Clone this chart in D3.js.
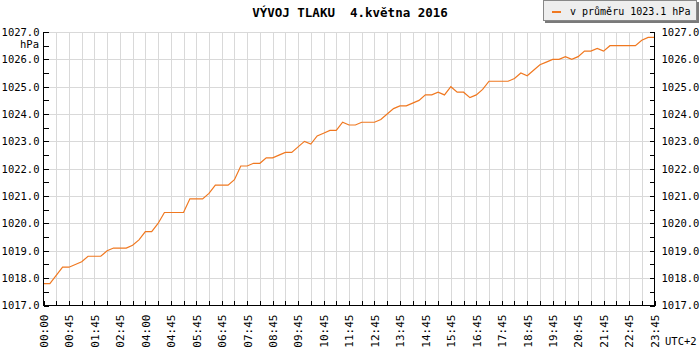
<!DOCTYPE html>
<html><head><meta charset="utf-8">
<script src="https://cdn.jsdelivr.net/npm/d3@7"></script>
<style>
html,body{margin:0;padding:0;background:#fff;}
svg{display:block;}
text{font-family:"DejaVu Sans Mono",monospace;}
</style>
</head><body>
<svg id="c" width="700" height="350"></svg>
<script>
const title = "VÝVOJ TLAKU  4.května 2016";
const legendLabel = "v průměru 1023.1 hPa";
const unitLabel = "hPa";
const tzLabel = "UTC+2";
const xTickLabels = ["00:00","00:45","01:45","02:45","04:00","04:45","05:45","06:45","07:45","08:45","09:45","10:45","11:45","12:45","13:45","14:45","15:45","16:45","17:45","18:45","19:45","20:45","21:45","22:45","23:45"];
const pressure = [
1017.8,1017.8,1018.1,1018.4,1018.4,1018.5,1018.6,1018.8,1018.8,1018.8,
1019.0,1019.1,1019.1,1019.1,1019.2,1019.4,1019.7,1019.7,1020.0,1020.4,
1020.4,1020.4,1020.4,1020.9,1020.9,1020.9,1021.1,1021.4,1021.4,1021.4,
1021.6,1022.1,1022.1,1022.2,1022.2,1022.4,1022.4,1022.5,1022.6,1022.6,
1022.8,1023.0,1022.9,1023.2,1023.3,1023.4,1023.4,1023.7,1023.6,1023.6,
1023.7,1023.7,1023.7,1023.8,1024.0,1024.2,1024.3,1024.3,1024.4,1024.5,
1024.7,1024.7,1024.8,1024.7,1025.0,1024.8,1024.8,1024.6,1024.7,1024.9,
1025.2,1025.2,1025.2,1025.2,1025.3,1025.5,1025.4,1025.6,1025.8,1025.9,
1026.0,1026.0,1026.1,1026.0,1026.1,1026.3,1026.3,1026.4,1026.3,1026.5,
1026.5,1026.5,1026.5,1026.5,1026.7,1026.8,1026.8];
const yMin = 1017, yMax = 1027;

const L = 43.5, R = 654.5, T = 32, B = 305.5;
const svg = d3.select("#c");
const n = pressure.length - 1;
const x = d3.scaleLinear().domain([0, n]).range([L, R]);
const y = d3.scaleLinear().domain([yMin, yMax]).range([B, T]);

// grid
const g = svg.append("g").attr("shape-rendering","crispEdges");
const vIdx = d3.range(2, n, 2);
g.selectAll(".vg").data(vIdx).enter().append("line")
  .attr("x1", d => Math.round(x(d)) + 0.5).attr("x2", d => Math.round(x(d)) + 0.5)
  .attr("y1", T).attr("y2", B).attr("stroke", "#d9d9d9");
const hVals = d3.range(yMin + 1, yMax + 1, 1);
g.selectAll(".hg").data(hVals).enter().append("line")
  .attr("x1", L).attr("x2", R)
  .attr("y1", d => Math.round(y(d)) + 0.5).attr("y2", d => Math.round(y(d)) + 0.5)
  .attr("stroke", "#d9d9d9");

// line
const line = d3.line().x((d, i) => x(i)).y(d => y(d));
svg.append("path").datum(pressure).attr("d", line)
  .attr("fill", "none").attr("stroke", "#f07820").attr("stroke-width", 1.2);

// axes
const yTicks = d3.range(yMin, yMax + 0.01, 0.5);
const fmt = d => (Number.isInteger(d) ? d.toFixed(1) : "");
const axL = d3.axisLeft(y).tickValues(yTicks).tickSize(-5).tickPadding(8).tickFormat(fmt);
const axR = d3.axisRight(y).tickValues(yTicks).tickSize(-5).tickPadding(8).tickFormat(fmt);
const xTickIdx = d3.range(0, n + 1, 2);
const axB = d3.axisBottom(x).tickValues(xTickIdx).tickSize(-5).tickFormat(d => d % 4 === 0 ? xTickLabels[d / 4] : "");

const gl = svg.append("g").attr("transform", `translate(${L},0)`).call(axL);
const gr = svg.append("g").attr("transform", `translate(${R},0)`).call(axR);
const gb = svg.append("g").attr("transform", `translate(0,${B})`).call(axB);
[gl, gr, gb].forEach(a => {
  a.select(".domain").attr("stroke", "#000").attr("shape-rendering","crispEdges");
  a.selectAll(".tick line").attr("stroke", "#000").attr("shape-rendering","crispEdges");
  a.selectAll("text").attr("font-family", "DejaVu Sans Mono, monospace").attr("font-size", 11).attr("fill", "#000");
});
gl.selectAll(".tick text").attr("font-size", 10.5);
gr.selectAll(".tick text").attr("font-size", 10.5);
gl.select(".domain").attr("d", `M0,${T}V${B}`);
gr.select(".domain").attr("d", `M0,${T}V${B}`);
gb.select(".domain").attr("d", `M${L},0H${R}`);
gr.selectAll(".tick text").attr("x", 7);
gl.selectAll(".tick text").attr("x", -4);
gb.selectAll(".tick text")
  .attr("transform", "rotate(-90)")
  .attr("text-anchor", "end")
  .attr("x", -9).attr("y", 0).attr("dy", "0.35em");

// unit
svg.append("text").attr("x", 39).attr("y", 48).attr("text-anchor", "end")
  .attr("font-size", 10.5).text(unitLabel);
svg.append("text").attr("x", 665).attr("y", 345)
  .attr("font-size", 10.5).text(tzLabel);

// title
svg.append("text").attr("x", 350).attr("y", 17).attr("text-anchor", "middle")
  .attr("font-family", "DejaVu Sans, sans-serif").attr("font-weight", "bold")
  .attr("font-size", 12.5).style("white-space", "pre").text(title);

// legend
const lg = svg.append("g").attr("shape-rendering","crispEdges");
lg.append("rect").attr("x", 545).attr("y", 2).attr("width", 154).attr("height", 21).attr("fill", "#7a7a7a");
lg.append("rect").attr("x", 543.5).attr("y", 0.5).attr("width", 153).attr("height", 20).attr("fill", "#eeeeee").attr("stroke", "#888");
lg.append("line").attr("x1", 552).attr("x2", 561).attr("y1", 11.5).attr("y2", 11.5).attr("stroke", "#f07820").attr("stroke-width", 2);
svg.append("text").attr("x", 570).attr("y", 15).attr("font-size", 10).text(legendLabel);
</script>
</body></html>
